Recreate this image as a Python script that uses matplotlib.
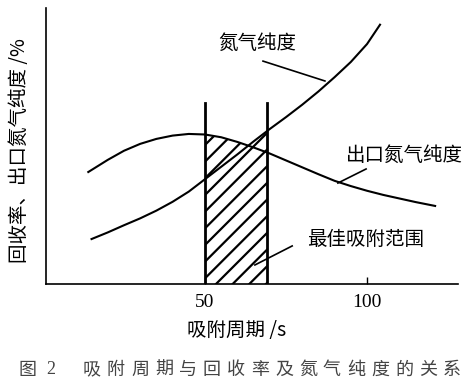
import numpy as np
import matplotlib
matplotlib.use("Agg")
import matplotlib.pyplot as plt

plt.rcParams['font.family'] = ['Noto Sans CJK SC', 'DejaVu Sans']
plt.rcParams['hatch.linewidth'] = 1.6
plt.rcParams['hatch.color'] = 'black'

# adsorption period (s) and read-off curve values (arbitrary %, 0-100 axis)
purity_x = [15, 20, 25, 30, 35, 40, 45, 50, 55, 60, 65, 70, 75, 80, 85, 90, 95, 100, 104]
purity_y = [16.3, 18.7, 21.3, 23.8, 26.6, 29.8, 33.5, 38.0, 42.5, 47.0, 51.7, 56.2,
            60.5, 65.0, 69.8, 75.0, 80.5, 87.0, 94.0]

outlet_x = [14, 20, 25, 30, 35, 40, 45, 50, 55, 60, 65, 70, 75, 80, 85, 90, 95,
            100, 105, 110, 115, 121]
outlet_y = [40.6, 45.0, 48.3, 50.8, 52.6, 53.8, 54.4, 54.2, 53.2, 51.5, 49.5, 47.3,
            44.8, 42.3, 39.8, 37.4, 35.5, 33.8, 32.3, 31.0, 29.7, 28.3]

best_range = [50, 69.1]
range_top = 65.6
xticks = [50, 100]

fig = plt.figure(figsize=(4.71, 3.88), dpi=100)
ax = fig.add_axes([0.098, 0.268, 0.874, 0.711])

ax.plot(purity_x, purity_y, color='black', lw=1.5)
ax.plot(outlet_x, outlet_y, color='black', lw=1.5)

# hatched best adsorption range, bounded above by the higher curve
fx = np.linspace(best_range[0], best_range[1], 60)
ftop = np.maximum(np.interp(fx, purity_x, purity_y), np.interp(fx, outlet_x, outlet_y))
ax.fill_between(fx, 0, ftop, facecolor='none', edgecolor='black', hatch='//', linewidth=0)
for xv in best_range:
    ax.plot([xv, xv], [0, range_top], color='black', lw=2)

# labels with leader lines
ax.text(66, 87.3, '氮气纯度', fontsize=14, ha='center', va='center')
ax.plot([67.9, 87], [80.8, 73.6], color='black', lw=1.2)
ax.text(111.7, 46.7, '出口氮气纯度', fontsize=14, ha='center', va='center')
ax.plot([99.7, 91], [41.7, 36.6], color='black', lw=1.2)
ax.text(99.4, 16.3, '最佳吸附范围', fontsize=14, ha='center', va='center')
ax.plot([76.9, 65.4], [13.8, 6.9], color='black', lw=1.2)

ax.set_xlim(1, 128)
ax.set_ylim(0, 100)
for side in ['top', 'right']:
    ax.spines[side].set_visible(False)
for side in ['left', 'bottom']:
    ax.spines[side].set_linewidth(1.2)
ax.set_yticks([])
ax.set_xticks(xticks)
ax.set_xticklabels([str(t) for t in xticks], fontfamily='Liberation Serif', fontsize=14)
ax.tick_params(axis='x', direction='in', length=5, width=1, pad=7)

fig.text(0.042, 0.613, '回收率、出口氮气纯度 /%', rotation=90, fontsize=14,
         ha='center', va='center')
fig.text(0.503, 0.149, '吸附周期 /s', fontsize=14, ha='center', va='center')

# caption, spaced out like the printed figure
cap_y = 1 - 370 / 388
fig.text(28 / 471, cap_y, '图', fontsize=13, color='#444444', ha='center', va='center')
fig.text(51 / 471, cap_y, '2', fontsize=13, color='#444444', ha='center', va='center',
         fontfamily='Liberation Serif')
for i, ch in enumerate('吸附周期与回收率及氮气纯度的关系'):
    fig.text((92 + 24 * i) / 471, cap_y, ch, fontsize=13, color='#444444',
             ha='center', va='center')

fig.savefig('out.png', dpi=100)
